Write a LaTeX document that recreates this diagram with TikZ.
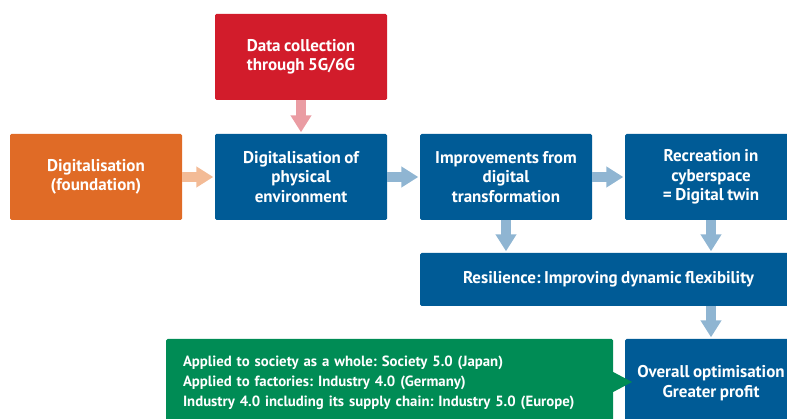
\documentclass[tikz,border=0pt]{standalone}
\usepackage{fontspec}
\setmainfont{PT Sans}[WordSpace=0.8]
\usetikzlibrary{arrows.meta}
\definecolor{boxblue}{RGB}{0,91,150}
\definecolor{boxred}{RGB}{210,28,43}
\definecolor{boxorange}{RGB}{224,107,38}
\definecolor{boxgreen}{RGB}{0,140,85}
\definecolor{arrblue}{RGB}{143,181,210}
\definecolor{arrpink}{RGB}{234,156,163}
\definecolor{arrpeach}{RGB}{243,187,150}
\tikzset{
  stepbox/.style={fill=#1, draw=none, rounded corners=1.5pt, text=white,
    font=\frenchspacing\bfseries\fontsize{17}{19.5}\selectfont, align=center,
    minimum width=172pt, minimum height=86pt, inner sep=0pt},
  flow/.style={draw=#1, line width=9.5pt,
    -{Triangle[width=20pt,length=17pt]}, shorten >=1.5pt},
}
\begin{document}
\begin{tikzpicture}[x=1pt,y=-1pt]
\useasboundingbox (0,0) rectangle (787,419);
\clip (0,0) rectangle (787,419);

% boxes of the process chain
\node[stepbox=boxorange] (found) at (96,177) {Digitalisation\\(foundation)};
\node[stepbox=boxred] (data) at (301,57) {Data collection\\through 5G/6G};
\node[stepbox=boxblue] (phys) at (301,177) {Digitalisation of\\physical\\environment};
\node[stepbox=boxblue] (impr) at (506,177) {Improvements from\\digital\\transformation};
\node[stepbox=boxblue] (twin) at (711,177) {Recreation in\\cyberspace\\= Digital twin};
\node[stepbox=boxblue, minimum width=377pt, minimum height=53pt] (resil) at (608.5,279.5)
  {Resilience: Improving dynamic flexibility};
\node[stepbox=boxblue, minimum height=88pt] (optim) at (711,383)
  {Overall optimisation\\Greater profit};

% green note with its pointer
\node[fill=boxgreen, rounded corners=1.5pt, text=white, align=left,
  font=\frenchspacing\bfseries\fontsize{14.8}{20.3}\selectfont,
  text width=413pt, inner xsep=17pt, inner ysep=0pt,
  minimum height=88pt] (apply) at (389.5,383)
  {Applied to society as a whole: Society 5.0 (Japan)\\
   Applied to factories: Industry 4.0 (Germany)\\
   Industry 4.0 including its supply chain: Industry 5.0 (Europe)};
\coordinate (tip) at (632,382);
\fill[boxgreen] ([yshift=-10pt]apply.east |- tip) -- (tip) -- ([yshift=10pt]apply.east |- tip) -- cycle;

% connectors
\draw[flow=arrpeach] (found) -- (phys);
\draw[flow=arrpink] (data) -- (phys);
\draw[flow=arrblue] (phys) -- (impr);
\draw[flow=arrblue] (impr) -- (twin);
\draw[flow=arrblue] (impr.south) -- (impr.south |- resil.north);
\draw[flow=arrblue] (twin.south) -- (twin.south |- resil.north);
\draw[flow=arrblue] (optim.north |- resil.south) -- (optim.north);
\end{tikzpicture}
\end{document}
